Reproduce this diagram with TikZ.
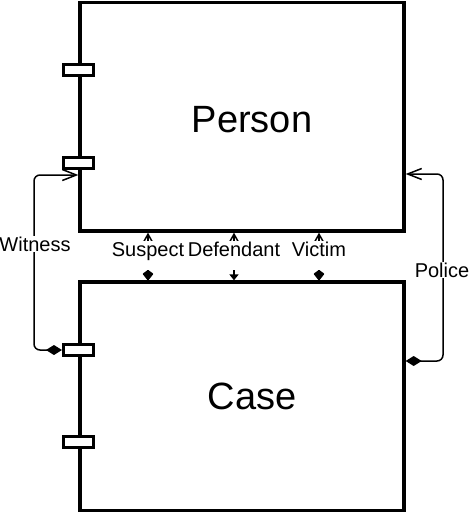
\documentclass[tikz,border=0pt]{standalone}
\usepackage{fontspec}
\setmainfont{Liberation Sans}
\usetikzlibrary{arrows.meta}

\begin{document}
\begin{tikzpicture}[x=1pt,y=-1pt,
entity/.style={draw, line width=3.3pt, inner sep=0pt, minimum width=324pt, minimum height=228.5pt},
port/.style={draw, fill=white, line width=2.8pt, minimum width=30pt, minimum height=11pt, inner sep=0pt},
link/.style={line width=1.5pt},
role/.style={fill=white, inner sep=1pt, font=\fontsize{20}{20}\selectfont},
midrole/.style={role, text height=14pt, text depth=13pt},
title/.style={font=\fontsize{38}{38}\selectfont}]
\useasboundingbox (0,0) rectangle (473,513);

\node[entity] (person) at (242,116.75) {};
\node[entity] (case) at (242,396.25) {};
\node[title, anchor=base] (personName) at (252,133) {Person};
\node[title, anchor=base] (caseName) at (252,409.5) {Case};

\foreach \y [count=\i] in {70,163}
{
\node[port] (personPort\i) at (person.west |- 0,\y) {};
}
\foreach \y [count=\i] in {350,442}
{
\node[port] (casePort\i) at (case.west |- 0,\y) {};
}

\draw[link, rounded corners=6pt, {Diamond[length=16pt,width=10pt]}-{Straight Barb[length=14pt,width=11pt]}] (casePort1.west) -| (34,262) |- (person.west |- 0,175);
\draw[link, rounded corners=6pt, {Diamond[length=16pt,width=10pt]}-{Straight Barb[length=14pt,width=11pt]}] (case.east |- 0,361) -| (443,268) |- (person.east |- 0,174);

\draw[link, {Kite[length=11pt,width=11pt,inset=4pt,round]}-{Straight Barb[length=8pt,width=9pt]}] (case.north -| 148,0) -- (person.south -| 148,0);
\draw[link, {Triangle[length=6pt,width=9pt]}-{Straight Barb[length=8pt,width=9pt]}] (case.north -| 234,0) -- (person.south -| 234,0);
\draw[link, {Kite[length=11pt,width=11pt,inset=4pt,round]}-{Straight Barb[length=8pt,width=9pt]}] (case.north -| 319,0) -- (person.south -| 319,0);

\node[role, anchor=base] (witness) at (35,251) {Witness};
\node[role, anchor=base] (police) at (442,277) {Police};
\node[midrole, anchor=base] (suspect) at (148,256) {Suspect};
\node[midrole, anchor=base] (defendant) at (234,256) {Defendant};
\node[midrole, anchor=base] (victim) at (319,256) {Victim};
\end{tikzpicture}
\end{document}
